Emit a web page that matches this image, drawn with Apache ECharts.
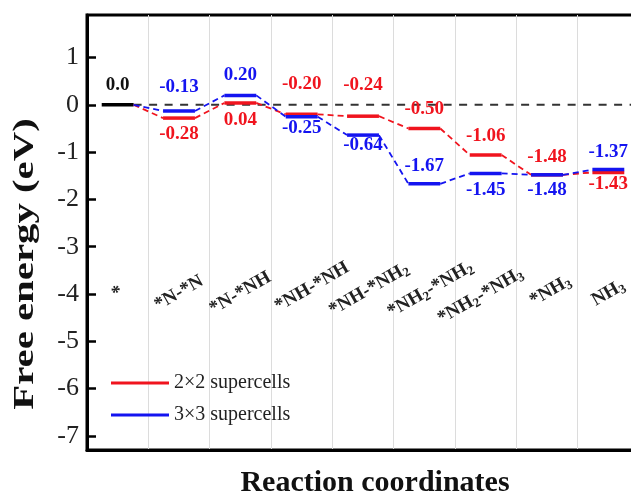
<!DOCTYPE html>
<html>
<head>
<meta charset="utf-8">
<script src="https://cdn.jsdelivr.net/npm/echarts@6/dist/echarts.min.js"></script>
<style>html,body{margin:0;padding:0;background:#fff;}#c{width:631px;height:492px;}</style>
</head>
<body>
<div id="c"></div>
<script>
// ---- data ----
const categories = ['*', '*N-*N', '*N-*NH', '*NH-*NH', '*NH-*NH{s|2}', '*NH{s|2}-*NH{s|2}', '*NH{s|2}-*NH{s|3}', '*NH{s|3}', 'NH{s|3}'];
const seriesNames = ['2×2 supercells', '3×3 supercells'];
const energy2x2 = [0, -0.28, 0.04, -0.20, -0.24, -0.50, -1.06, -1.48, -1.43];
const energy3x3 = [0, -0.13, 0.20, -0.25, -0.64, -1.67, -1.45, -1.48, -1.37];
const yTicks = [-7, -6, -5, -4, -3, -2, -1, 0, 1];

// ---- layout / style ----
const RED = '#f0141e', BLUE = '#1414f0';
const SERIF = '"Liberation Serif", "Times New Roman", serif';
// signed pixel offset of value labels from their level (negative = above)
const redLabelOffset = [-20, 16, 17, -30, -31, -19, -19, -18, 12];
const blueLabelOffset = [0, -24, -20, 11, 10, -18, 17, 15, -18];
// shift of category labels along their (rotated) baseline, px
const catShift = [0, 0, 0, 12, 7, 7, -6, 4, 0];

function fmt(v) { return v === 0 ? '0.0' : v.toFixed(2); }

const catRich = { s: { fontFamily: SERIF, fontSize: 13, fontWeight: 'bold', color: '#222', verticalAlign: 'bottom', lineHeight: 8 } };
catShift.forEach(function (s) { if (s) catRich['g' + Math.abs(s)] = { width: Math.abs(s) * 2, fontSize: 2 }; });
function catFormatter(value, index) {
  const s = catShift[index];
  if (s > 0) return '{g' + s + '| }' + value;
  if (s < 0) return value + '{g' + (-s) + '| }';
  return value;
}

function makeRender(values, color, offsets, drawStart) {
  return function (params, api) {
    const i = params.dataIndex;
    const bw = api.size([1, 0])[0];
    const half = bw * 0.26;
    const p = api.coord([i, values[i]]);
    const children = [];
    if (i === 0) {
      if (drawStart) {
        const cs = params.coordSys;
        children.push({ type: 'line', shape: { x1: p[0] + half, y1: p[1], x2: cs.x + cs.width, y2: p[1] },
          style: { stroke: '#333', lineWidth: 2, lineDash: [8, 7.5] } });
        children.push({ type: 'line', shape: { x1: p[0] - half, y1: p[1], x2: p[0] + half, y2: p[1] },
          style: { stroke: '#000', lineWidth: 3.5 } });
        children.push({ type: 'text', x: p[0], y: p[1] + offsets[i],
          style: { text: fmt(values[i]), fill: '#111', font: 'bold 19px ' + SERIF, align: 'center', verticalAlign: 'middle' } });
      }
      return { type: 'group', children: children };
    }
    const q = api.coord([i - 1, values[i - 1]]);
    children.push({ type: 'line', shape: { x1: q[0] + half, y1: q[1], x2: p[0] - half, y2: p[1] },
      style: { stroke: color, lineWidth: 1.8, lineDash: [6, 4] } });
    children.push({ type: 'line', shape: { x1: p[0] - half, y1: p[1], x2: p[0] + half, y2: p[1] },
      style: { stroke: color, lineWidth: 3.5 } });
    children.push({ type: 'text', x: p[0], y: p[1] + offsets[i],
      style: { text: fmt(values[i]), fill: color, font: 'bold 19px ' + SERIF, align: 'center', verticalAlign: 'middle' } });
    return { type: 'group', children: children };
  };
}

const chart = echarts.init(document.getElementById('c'), null, { renderer: 'canvas' });
chart.setOption({
  animation: false,
  backgroundColor: '#fff',
  grid: { left: 87, width: 552, top: 15, bottom: 42, outerBoundsMode: 'none', containLabel: false,
    show: true, borderColor: '#000', borderWidth: 3, backgroundColor: 'transparent' },
  legend: {
    orient: 'vertical', left: 106, top: 368, itemWidth: 58, itemHeight: 3, itemGap: 12,
    icon: 'rect',
    textStyle: { fontFamily: SERIF, fontSize: 20, color: '#222' },
    data: [{ name: seriesNames[0], itemStyle: { color: RED } }, { name: seriesNames[1], itemStyle: { color: BLUE } }]
  },
  xAxis: {
    type: 'category', data: categories, boundaryGap: true,
    axisLine: { onZero: false, lineStyle: { color: '#000', width: 3 } },
    axisTick: { show: false },
    splitLine: { show: true, interval: 0, lineStyle: { color: '#dcdcdc', width: 1 } },
    axisLabel: {
      interval: 0, rotate: 30, margin: -157, align: 'center', verticalAlign: 'middle',
      fontFamily: SERIF, fontSize: 19, fontWeight: 'bold', color: '#222', lineHeight: 22,
      formatter: catFormatter, rich: catRich
    },
    name: 'Reaction coordinates', nameLocation: 'middle', nameGap: 18,
    nameTextStyle: { fontFamily: SERIF, fontSize: 30, fontWeight: 'bold', color: '#111', padding: [0, 0, 0, 24] }
  },
  yAxis: {
    type: 'value', min: -7.3, max: 1.9,
    axisLine: { show: true, lineStyle: { color: '#000', width: 3 } },
    axisTick: { show: true, inside: true, length: 9, lineStyle: { color: '#000', width: 2.5 }, customValues: yTicks },
    axisLabel: { customValues: yTicks, fontFamily: SERIF, fontSize: 26, color: '#222', margin: 8 },
    splitLine: { show: false }
  },
  graphic: [{
    type: 'text', x: 25, y: 264, rotation: Math.PI / 2, scaleX: 1.36,
    style: { text: 'Free energy (eV)', font: 'bold 30px ' + SERIF, fill: '#111', align: 'center', verticalAlign: 'middle' }
  }],
  series: [
    { name: seriesNames[0], type: 'custom', itemStyle: { color: RED }, encode: { x: 0, y: 1 },
      data: energy2x2.map((v, i) => [i, v]), renderItem: makeRender(energy2x2, RED, redLabelOffset, true) },
    { name: seriesNames[1], type: 'custom', itemStyle: { color: BLUE }, encode: { x: 0, y: 1 },
      data: energy3x3.map((v, i) => [i, v]), renderItem: makeRender(energy3x3, BLUE, blueLabelOffset, false) }
  ]
});
</script>
</body>
</html>
